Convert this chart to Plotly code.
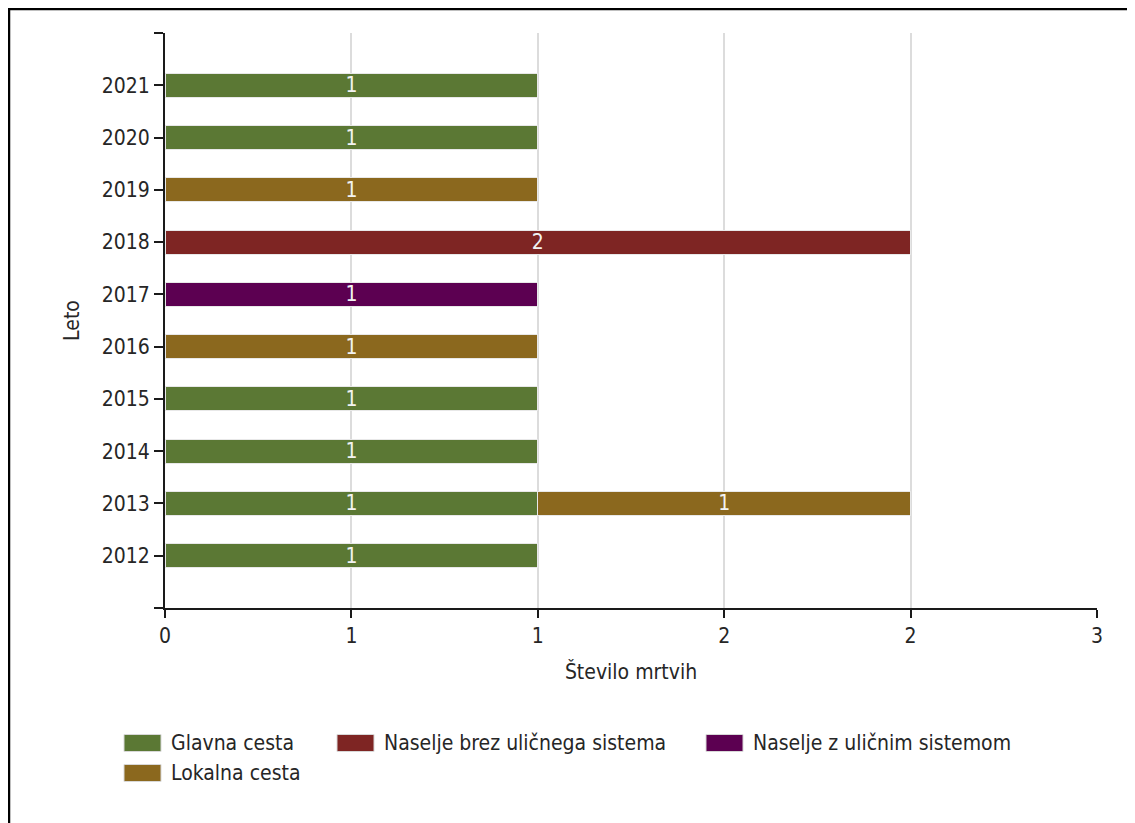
import plotly.graph_objects as go

years = [2012, 2013, 2014, 2015, 2016, 2017, 2018, 2019, 2020, 2021]
series_names = ["Glavna cesta", "Naselje brez uličnega sistema", "Naselje z uličnim sistemom", "Lokalna cesta"]
glavna = [1, 1, 1, 1, None, None, None, None, 1, 1]
naselje_brez = [None, None, None, None, None, None, 2, None, None, None]
naselje_z = [None, None, None, None, None, 1, None, None, None, None]
lokalna = [None, 1, None, None, 1, None, None, 1, None, None]
colors = ["#5B7834", "#7E2523", "#5C0051", "#8B681E"]
x_tickvals = [0, 0.5, 1, 1.5, 2, 2.5]
x_ticktext = ["0", "1", "1", "2", "2", "3"]

FONT = "DejaVu Sans Condensed, DejaVu Sans, sans-serif"
FS = 21
TXT = "#262626"

# page offset of the figure (default body margin of the html page)
OFF = 8
VW, VH = 1135, 823
W, H = VW - OFF, VH - OFF
# plot area in page pixels
PL, PR, PT, PB = 165, 1097, 33, 608
L, R, T, B = PL - OFF, OFF + W - PR, PT - OFF, OFF + H - PB
PW, PH = PR - PL, PB - PT


def px(x):
    return (x - PL) / PW


def py(y):
    return (PB - y) / PH


fig = go.Figure()
for name, vals, col in zip(series_names, [glavna, naselje_brez, naselje_z, lokalna], colors):
    fig.add_trace(go.Bar(
        y=years, x=vals, name=name, orientation="h",
        marker=dict(color=col, line=dict(color="#e8e8e8", width=1)),
        width=0.46,
        text=[("" if v is None else str(v)) for v in vals],
        textposition="inside", insidetextanchor="middle",
        textangle=0, constraintext="none",
        textfont=dict(color="#f2f2f2", family=FONT, size=FS),
        showlegend=False,
    ))

# custom legend (wide swatches like the reference)
legend_pos = [(124, 743), (337, 743), (706, 743), (124, 773)]
shapes = []
annotations = []
for (lx, ly), name, col in zip(legend_pos, series_names, colors):
    shapes.append(dict(type="rect", xref="paper", yref="paper",
                       x0=px(lx), x1=px(lx + 37), y0=py(ly + 8.5), y1=py(ly - 8.5),
                       fillcolor=col, line=dict(color="#d8d8d8", width=1)))
    annotations.append(dict(xref="paper", yref="paper", x=px(lx + 45), y=py(ly),
                            text=name, showarrow=False, xanchor="left", yanchor="middle",
                            font=dict(family=FONT, size=FS, color=TXT)))

# outer frame
shapes.append(dict(type="rect", xref="paper", yref="paper",
                   x0=px(9), x1=px(VW + 20), y0=py(VH + 20), y1=py(9),
                   line=dict(color="black", width=2.5), fillcolor="rgba(0,0,0,0)", layer="above"))

fig.update_layout(
    width=W, height=H,
    margin=dict(l=L, r=R, t=T, b=B, autoexpand=False),
    paper_bgcolor="white", plot_bgcolor="white",
    barmode="stack",
    font=dict(family=FONT, size=FS, color=TXT),
    shapes=shapes, annotations=annotations,
)
fig.update_xaxes(
    range=[0, 2.5], tickvals=x_tickvals, ticktext=x_ticktext,
    showgrid=True, gridcolor="#dcdcdc", gridwidth=2,
    showline=True, linecolor="#1a1a1a", linewidth=2,
    ticks="outside", ticklen=8, tickwidth=2, tickcolor="#1a1a1a",
    zeroline=False,
    title=dict(text="Število mrtvih", standoff=17, font=dict(family=FONT, size=FS, color=TXT)),
    fixedrange=True,
)
fig.update_yaxes(
    range=[2011, 2022],
    tickvals=[2011] + years + [2022],
    ticktext=[""] + [str(y) for y in years] + [""],
    showgrid=False, zeroline=False,
    showline=True, linecolor="#1a1a1a", linewidth=2,
    ticks="outside", ticklen=9, tickwidth=2, tickcolor="#1a1a1a",
    title=dict(text="Leto", standoff=16, font=dict(family=FONT, size=FS, color=TXT)),
    fixedrange=True,
)

fig.write_html("out.html", config={"displayModeBar": False})
